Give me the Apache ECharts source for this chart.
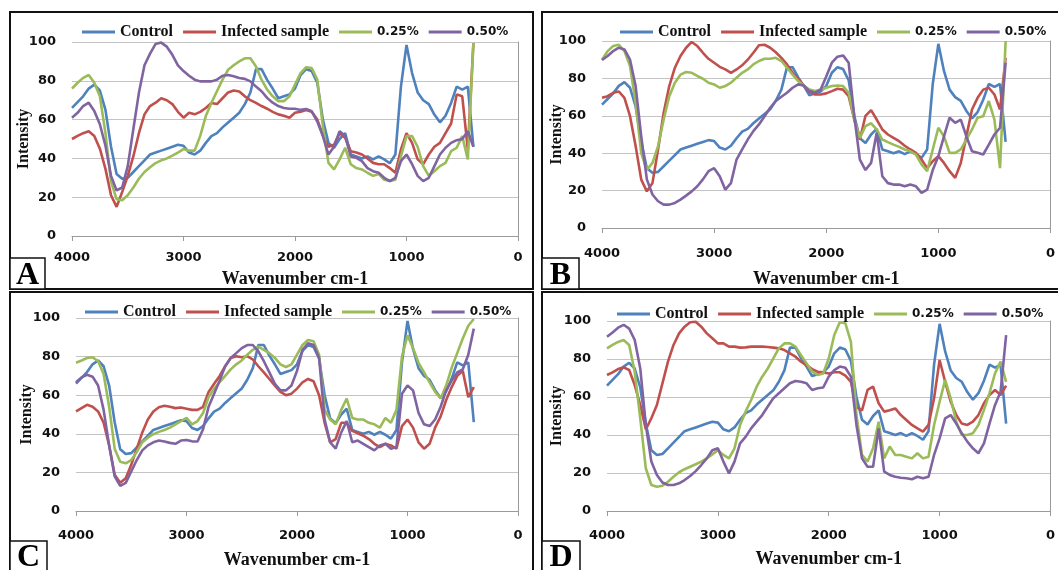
<!DOCTYPE html>
<html><head><meta charset="utf-8">
<script src="https://cdn.jsdelivr.net/npm/echarts@6/dist/echarts.min.js"></script>
<style>html,body{margin:0;padding:0;background:#fff}#c{width:1058px;height:570px}</style>
</head><body><div id="c"></div>
<script>
const wavenumbers = [4000,3950,3900,3850,3800,3750,3700,3650,3600,3550,
3500,3450,3400,3350,3300,3250,3200,3150,3100,3050,
3000,2950,2900,2850,2800,2750,2700,2650,2600,2550,
2500,2450,2400,2350,2300,2250,2200,2150,2100,2050,
2000,1950,1900,1850,1800,1750,1700,1650,1600,1550,
1500,1450,1400,1350,1300,1250,1200,1150,1100,1050,
1000,950,900,850,800,750,700,650,600,550,
500,450,400];
const seriesNames = ["Control","Infected sample","0.25%","0.50%"];
const panelLetters = ["A","B","C","D"];
const yTicks = [0,20,40,60,80,100];
const xTicks = [4000,3000,2000,1000,0];

// Control spectrum (same in all panels)
const control = [66,69,72,76,78,75,65,46,32,29.5,30,33,36,39,42,43,44,45,46,47,46.5,43,42,44,48,51.5,53,56,58.5,61,63.5,68,74,86,86,80.5,76,71,72,73,76,
83,86,85,79,60,48,45.5,50,53,42,41,40,41,39.5,41,39.5,37.5,42,77,98.5,84,74,70,68,62.6,58.6,62,68.6,77,75.5,77,46];

// Panel A
const infectedA = [50,51.6,53,54,51.6,45,34.6,21,15,22.7,31,41,53,62.7,67,68.7,71,70,68,64,61,63.5,62.7,64,66,68.6,68,71,74,75,74.5,72,70,68.6,67,65.6,64,62.7,62,61,63.5,
64,65,64,60,52,46,47,53,50.6,43.7,43,42,40,37.7,37,37,35,32.6,44.6,53,48,39.5,37,42,46,48,53,58,73,72,44.6,99.5];
const dose025A = [76,79,81.5,83,79,72,53,28,19,18.4,21,25,29.5,33,35.4,37.6,39,40,41.4,43,44.8,44,44,51.6,61.8,68.6,74.6,80.6,85.7,88,90,91.6,91.6,87.4,80.6,75.5,72,69.5,69.5,72,78,
84,87,86.6,80.6,56.6,37.7,34.3,39.5,45.5,37,35,34.3,32.6,31,32,29,28.3,29,41,51.5,51.5,46,36,31,33.4,36,37.7,43.7,45.5,51.5,39.5,99.5];
const dose050A = [61,63.5,67,68.7,64.4,57.6,46.5,31,23.5,25,36,55,73.8,88,94,99,99.7,97.6,93.4,88,85,82.6,80.6,79.7,79.7,79.7,80.6,82.6,83,82.3,81.4,81,79.7,77,74.6,71.2,68.7,67,66,65.6,65.6,
65,65.5,64.3,59,51.5,42,46,54,51.5,41,40.3,38.6,35,33.4,32.6,30,28.3,30,38.6,42,37,31,28.3,30,36,42,45.5,48,49.4,50,54,46];

// Panel B
const infectedB = [69.6,70.5,72.3,73,69.6,59.8,43.8,25.9,19.6,24,42,61.6,75.9,85.7,92,96.4,99.5,97.3,93.7,90.5,88.4,86.2,84.8,83,84.8,87,90,93.7,97.7,98,96.4,94,91,87.5,83,79.5,76,73,71.4,71.4,72,
73.2,74.5,74,70.5,58,47.3,60,63,58,52.7,50,48.2,46.4,44,42,40.2,36.6,32,35.7,38.4,34.8,30.4,26.8,34.8,49,63.4,69.6,74,75,71.4,63.4,91];
const dose025B = [90,94.6,97.3,98,94.6,86.6,67,40,31,34.8,43.8,58,70.5,77.7,82,83.4,83,81.3,79.8,77.7,76.8,75,75.9,77.7,80.4,83,84.8,87.5,89.3,90.5,90.5,91,89.3,85.7,82,78.6,76,74,73.2,74,75,
75.9,76.2,75.9,72.3,58,48.2,54.5,56,52.7,47.3,45.9,44.6,43.4,42,41,39.3,34,30.4,42,53.6,49,40.2,40.2,42,47.3,52.7,59,59.8,67.9,58,32,100];
const dose050B = [89.8,92,94.6,96.4,95.5,90,75.9,49,26,17.9,14.3,12.5,12.5,13.4,15.2,17.3,19.6,22.3,26,30.4,32,27.7,20.5,24,36.6,42,47.3,51.8,55.4,59.8,64.3,67.9,70.2,72.3,75,76.8,76.2,73.2,72.3,74,81,
88.4,91.6,92.3,88.4,59.8,36.6,31,34.8,51,27.7,24,23.2,23.2,22.3,23.2,22.3,18.75,20.5,31,38.4,49,59,56.25,58,49,41,40.2,39.3,44.6,50,53.6,88.4];

// Panel C
const infectedC = [51.6,53.3,55,54,51.6,45.7,34,18.8,14.6,17,23.9,32.3,40.7,47.4,51.6,53.8,54.5,54,53.3,53.6,53,52.4,52.4,54,61.7,65.9,70,75,79.3,80.2,79.7,80.2,78.5,75,71.8,68.4,65,61.7,60,60.8,63.4,
66.7,68.4,67.2,60,45.7,35.6,37.3,45.7,45.7,41.5,40.3,39,37.3,34.8,33.1,34.8,34,32.3,44,47.4,43.2,35.6,32.3,34.8,43.2,49,57.5,64.2,70,72.6,59,64.2];
const dose025C = [76.8,78,79.3,79.7,77.6,71,54,32.3,25.5,24.7,26.4,30.6,35.6,38,39.8,41,42,43.2,44.9,46.6,48.2,44.9,46.6,50.8,59,63.4,66.7,70,73.4,76,78,81,83.5,85.2,83.5,81.8,79.3,76,74.6,76,81,
86,88.6,88,81,52.4,47.4,44.9,52.4,58.3,48.2,47.4,47.4,45.7,44.9,43.2,48.2,45.7,52.4,80,91,84.4,76.8,71.8,66.7,61.7,58.3,65,74.3,81.8,89.4,96,99.5];
const dose050C = [66.7,69.2,70.6,69.6,65,52.4,34,18,13,14.6,20.5,26.4,31.4,34,35.6,36.5,36,35.3,34.8,36.5,36.8,36.1,36,42.4,54,60.8,67.6,75,79.3,81.8,84.4,86,86,82.7,77.6,71.8,65.9,62.5,62.5,65,72.6,
83.5,86.9,86,79.3,47.4,35.6,32.3,40.7,46.6,35.6,36.5,34.8,33.1,31.4,34,34.8,32.3,33.1,60.8,65,62.5,50.8,44.9,44,47.4,54,62.5,67.6,71.8,73.4,81,94.5];

// Panel D
const infectedD = [71.6,73,74.7,75.6,74.2,66.3,55.8,43,48.8,55.8,67.2,78.6,87.4,93.5,97,99.3,99.6,97,93.5,90.9,88.2,88.2,86.5,86.5,86,86.1,86.5,86.5,86.5,86.3,86,85.6,84.7,83,81.2,78.6,76.8,74.7,73.3,73,72.4,
73,73,71.2,68,54.7,53,63.7,65.4,56.7,52.3,53,54,50.5,47.9,45.3,43.5,41.8,45.3,59.3,79.5,68,57.5,50.5,46,45.3,47,50.5,56.7,61,63.7,61,66];
const dose025D = [85.6,87.4,89,90,87.4,73.3,48.8,22.5,13.7,12.8,13.3,15.4,18,20.4,22,23.3,24.6,26,27.7,29.8,32,29.5,27.7,33,45.3,52.3,58.4,65.4,70.7,75,80.3,85.6,88.2,88.2,86.5,82,77.7,73.3,71.6,72.4,80.3,
92.6,99.3,98.8,89,50.5,29.5,26,33,47,27.7,33.9,29.5,29.5,28.6,27.7,30.4,27.7,28.6,45.3,57.5,69,59.3,47,40,40,40.9,45.3,53.2,62,72.5,78.6,68];
const dose050D = [91.7,94,96.5,98,96,90,75,45.3,26,19,15,13.7,13.7,14.6,16.3,18.4,21,24.2,27.7,32,33,26,19.8,26,35.6,39,43.5,47,50.5,55,59.3,62,64.6,67.2,68.4,68,67.2,63.7,64.6,65,70.7,
74.2,76,75.4,70.7,45.3,27.7,23.3,23.3,43.5,20.7,19,18,17.5,17.2,16.7,18,17.2,18,29.5,38.2,48.8,50.5,46,40.9,36.5,33,30.4,35.6,46,55.8,62.8,92.6];

const panels = [
  [control, infectedA, dose025A, dose050A],
  [control, infectedB, dose025B, dose050B],
  [control, infectedC, dose025C, dose050C],
  [control, infectedD, dose025D, dose050D]
];
const colors = ["#4F81BD","#C0504D","#9BBB59","#8064A2"];

// layout
const grids = [
  {left:72, top:42, width:446, height:194},
  {left:602, top:41, width:450, height:187},
  {left:76, top:318, width:442, height:199},
  {left:607, top:321, width:445, height:190}
];
const xLabelMargin = [15,19,18,18];
const xNameGap = [34,42,40,39];
const yNameGap = [40,37,41,42];
const legendPos = [{left:77,top:19},{left:615,top:19},{left:80,top:299},{left:612,top:301}];
const frames = [
  {x:10,y:12,w:523,h:277},{x:542,y:12,w:530,h:277},
  {x:10,y:292,w:523,h:290},{x:542,y:292,w:530,h:290}
];
const letterBoxes = [
  {x:10,y:258,w:35,h:31},{x:542,y:258,w:37,h:31},
  {x:10,y:541,w:37,h:30},{x:542,y:541,w:38,h:30}
];

const sans = "DejaVu Sans";
const serif = "Liberation Serif";

const option = {
  animation:false,
  backgroundColor:"#fff",
  color: colors,
  grid: grids.map(g=>Object.assign({containLabel:false}, g)),
  legend: legendPos.map(p=>({
    left:p.left, top:p.top, icon:'rect', itemWidth:33, itemHeight:3, itemGap:10,
    data: seriesNames,
    formatter: n => n.indexOf('%')>=0 ? '{s|'+n+'}' : '{t|'+n+'}',
    textStyle:{ rich:{
      t:{fontFamily:serif, fontWeight:'bold', fontSize:16, color:'#111'},
      s:{fontFamily:sans, fontWeight:'bold', fontSize:12, color:'#111'}
    }}
  })),
  xAxis: grids.map((g,i)=>({
    gridIndex:i, type:'value', min:0, max:4000, interval:1000, inverse:true,
    axisLine:{show:true, onZero:false, lineStyle:{color:'#9a9a9a', width:1}},
    axisTick:{show:true, length:5, lineStyle:{color:'#9a9a9a'}},
    axisLabel:{margin:xLabelMargin[i], fontFamily:sans, fontWeight:'bold', fontSize:13, color:'#111',
      formatter: v => xTicks.indexOf(v)>=0 ? String(v) : ''},
    splitLine:{show:false},
    name:'Wavenumber cm-1', nameLocation:'middle', nameGap:xNameGap[i], nameMoveOverlap:false,
    nameTextStyle:{fontFamily:serif, fontWeight:'bold', fontSize:18, color:'#111'}
  })),
  yAxis: grids.map((g,i)=>({
    gridIndex:i, type:'value', min:0, max:100, interval:20,
    axisLine:{show:true, lineStyle:{color:'#9a9a9a', width:1}},
    axisTick:{show:false},
    axisLabel:{margin:16, fontFamily:sans, fontWeight:'bold', fontSize:13, color:'#111',
      formatter: v => yTicks.indexOf(v)>=0 ? String(v) : ''},
    splitLine:{show:true, lineStyle:{color:'#c4c4c4', width:1}},
    name:'Intensity', nameLocation:'middle', nameGap:yNameGap[i], nameRotate:90, nameMoveOverlap:false,
    nameTextStyle:{fontFamily:serif, fontWeight:'bold', fontSize:16, color:'#111'}
  })),
  series: [],
  graphic: []
};

panels.forEach((sets,p)=>{
  sets.forEach((vals,k)=>{
    option.series.push({
      type:'line', name:seriesNames[k], xAxisIndex:p, yAxisIndex:p,
      data: wavenumbers.map((w,i)=>[w, vals[i]]),
      symbol:'none', showSymbol:false, smooth:false,
      lineStyle:{width:2.6, color:colors[k]}, itemStyle:{color:colors[k]}
    });
  });
});

frames.forEach(f=>{
  option.graphic.push({type:'rect', shape:{x:f.x,y:f.y,width:f.w,height:f.h},
    style:{fill:'none', stroke:'#111', lineWidth:2}, z:100});
});
letterBoxes.forEach((b,i)=>{
  option.graphic.push({type:'rect', shape:{x:b.x,y:b.y,width:b.w,height:b.h},
    style:{fill:'#fff', stroke:'#111', lineWidth:1.5}, z:101});
  option.graphic.push({type:'text', x:b.x+b.w/2, y:b.y+b.h/2+2, z:102,
    style:{text:panelLetters[i], font:'bold 32px "Liberation Serif"', fill:'#000', align:'center', verticalAlign:'middle'}});
});

const chart = echarts.init(document.getElementById('c'), null, {renderer:'canvas'});
chart.setOption(option);
</script>
</body></html>
